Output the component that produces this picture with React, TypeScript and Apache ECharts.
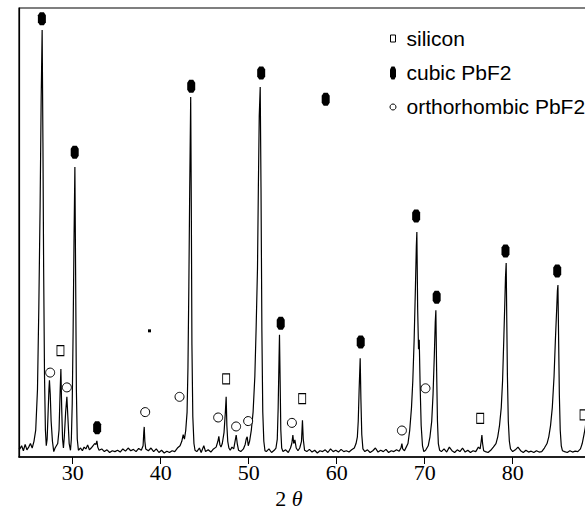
import React, { useEffect, useRef } from "react";
import * as echarts from "echarts";

// Diffractogram: [2θ (deg), intensity (a.u., 0–1000 scale)]
const pattern: [number, number][] = [
  [23.9, 20], [24.0, 18], [24.2, 25], [24.4, 14], [24.6, 28], [24.8, 16], [25.0, 22], [25.2, 30], [25.4, 20], [25.6, 35],
  [25.8, 60], [26.0, 150], [26.15, 330], [26.3, 560], [26.42, 800], [26.53, 951], [26.62, 700], [26.7, 420], [26.8, 180], [26.9, 60], [27.0, 25],
  [27.1, 40], [27.2, 95], [27.3, 150], [27.36, 171], [27.45, 140], [27.55, 80], [27.7, 35], [27.85, 12],
  [28.0, 20], [28.3, 30], [28.45, 60], [28.58, 150], [28.66, 196], [28.75, 110], [28.85, 40], [28.95, 20],
  [29.05, 45], [29.2, 100], [29.34, 134], [29.45, 90], [29.6, 30], [29.75, 15],
  [29.85, 40], [29.95, 120], [30.05, 280], [30.15, 480], [30.25, 646], [30.33, 420], [30.42, 150], [30.52, 40], [30.65, 15],
  [30.9, 20], [31.1, 14], [31.3, 22], [31.5, 18], [31.7, 27], [31.9, 16], [32.1, 20], [32.3, 25], [32.5, 30],
  [32.65, 28], [32.75, 36], [32.85, 22], [33.0, 15],
  [33.3, 18], [33.6, 12], [33.9, 16], [34.2, 10], [34.5, 14], [34.8, 12], [35.1, 15], [35.4, 11], [35.7, 18], [36.0, 13],
  [36.3, 20], [36.6, 14], [36.9, 17], [37.2, 12], [37.5, 19], [37.8, 15],
  [38.0, 25], [38.08, 55], [38.13, 67], [38.2, 35], [38.3, 18],
  [38.6, 14], [38.9, 20], [39.2, 12], [39.5, 18], [39.8, 10], [40.1, 15], [40.4, 9], [40.7, 13], [41.0, 10], [41.3, 14],
  [41.6, 12], [41.9, 20], [42.2, 25], [42.4, 35], [42.56, 50], [42.7, 40], [42.85, 60],
  [43.0, 100], [43.1, 200], [43.2, 380], [43.3, 600], [43.41, 802], [43.48, 560], [43.55, 250], [43.65, 90], [43.78, 30], [43.9, 15],
  [44.1, 12], [44.4, 20], [44.6, 10], [44.9, 25], [45.1, 12], [45.4, 16], [45.7, 11], [46.0, 18], [46.3, 22],
  [46.5, 35], [46.61, 46], [46.72, 28], [46.85, 22], [47.0, 30], [47.2, 55], [47.35, 100], [47.44, 134], [47.52, 70], [47.62, 35], [47.75, 20],
  [47.9, 15], [48.1, 22], [48.3, 18], [48.45, 35], [48.58, 49], [48.7, 30], [48.85, 15],
  [49.1, 12], [49.4, 18], [49.6, 28], [49.72, 40], [49.83, 45], [49.95, 25], [50.1, 35],
  [50.3, 60], [50.5, 100], [50.7, 180], [50.85, 290], [51.0, 420], [51.1, 600], [51.2, 760], [51.31, 824], [51.4, 600], [51.5, 280],
  [51.6, 100], [51.72, 35], [51.85, 14],
  [52.0, 12], [52.3, 18], [52.6, 10], [52.9, 15], [53.1, 20],
  [53.25, 40], [53.35, 110], [53.45, 220], [53.5, 272], [53.58, 160], [53.65, 60], [53.75, 20],
  [53.9, 12], [54.2, 16], [54.5, 10], [54.75, 20],
  [54.9, 30], [55.02, 49], [55.12, 30], [55.25, 38], [55.4, 20], [55.6, 14], [55.8, 20], [56.0, 35], [56.11, 82], [56.2, 40], [56.35, 15],
  [56.6, 12], [56.9, 17], [57.2, 11], [57.5, 15], [57.8, 9], [58.1, 14], [58.4, 12], [58.7, 16], [59.0, 10], [59.3, 18],
  [59.6, 12], [59.9, 15], [60.2, 11], [60.5, 17], [60.8, 12], [61.1, 14], [61.4, 11], [61.7, 16], [62.0, 20], [62.2, 30],
  [62.35, 45], [62.45, 80], [62.55, 150], [62.67, 220], [62.75, 130], [62.85, 50], [62.98, 18],
  [63.2, 12], [63.5, 16], [63.8, 10], [64.1, 14], [64.4, 20], [64.7, 11], [65.0, 15], [65.3, 12], [65.6, 17], [65.9, 10],
  [66.2, 14], [66.5, 12], [66.8, 16], [67.1, 13], [67.3, 20], [67.41, 30], [67.5, 18], [67.7, 14], [67.9, 22], [68.1, 30],
  [68.3, 60], [68.5, 110], [68.65, 170], [68.8, 260], [68.95, 380], [69.05, 470], [69.11, 501], [69.2, 330], [69.3, 240],
  [69.38, 261], [69.48, 160], [69.6, 70], [69.75, 25], [69.9, 12],
  [70.1, 15], [70.4, 25], [70.6, 45], [70.8, 80], [70.95, 140], [71.1, 230], [71.2, 300], [71.27, 327], [71.35, 200], [71.45, 80],
  [71.55, 30], [71.7, 15],
  [71.9, 12], [72.2, 18], [72.5, 11], [72.8, 22], [73.1, 14], [73.4, 10], [73.7, 16], [74.0, 12], [74.3, 20], [74.6, 11],
  [74.9, 15], [75.2, 10], [75.5, 14], [75.8, 12], [76.1, 22],
  [76.3, 18], [76.42, 35], [76.5, 49], [76.58, 30], [76.7, 14],
  [76.9, 12], [77.2, 10], [77.5, 15], [77.8, 22], [78.1, 30],
  [78.3, 45], [78.5, 70], [78.7, 110], [78.85, 170], [79.0, 270], [79.1, 340], [79.18, 400], [79.26, 432], [79.33, 300], [79.4, 180],
  [79.5, 80], [79.62, 35], [79.75, 18],
  [80.0, 12], [80.3, 16], [80.6, 22], [80.9, 14], [81.2, 10], [81.5, 15], [81.8, 11], [82.1, 13], [82.4, 10], [82.7, 14],
  [83.0, 11], [83.3, 12], [83.6, 20], [83.9, 30],
  [84.1, 45], [84.3, 70], [84.5, 110], [84.7, 180], [84.85, 260], [85.0, 330], [85.08, 370], [85.14, 383], [85.22, 260], [85.3, 140],
  [85.4, 60], [85.52, 25], [85.65, 14],
  [85.9, 12], [86.2, 10], [86.5, 14], [86.8, 11], [87.1, 13], [87.4, 12], [87.7, 18], [87.9, 30], [88.1, 50], [88.24, 65],
  [88.4, 90], [88.6, 140], [88.75, 160], [88.9, 90], [89.1, 40], [89.4, 20], [89.7, 14], [90.0, 15],
];

// Phase markers [2θ, height]
const siliconMarks: [number, number][] = [
  [28.61, 237], [47.44, 174], [56.08, 130], [76.31, 86], [88.05, 94],
];
const cubicMarks: [number, number][] = [
  [26.5, 976], [30.23, 679], [32.78, 65], [43.47, 826], [51.42, 855], [53.64, 298],
  [58.75, 797], [62.73, 256], [69.03, 537], [71.36, 356], [79.18, 459], [85.06, 414],
];
const orthoMarks: [number, number][] = [
  [27.44, 188], [29.34, 155], [38.24, 100], [42.14, 134], [46.53, 88], [48.57, 68],
  [49.94, 80], [54.91, 76], [67.41, 59], [70.09, 153],
];
const strayDots: [number, number][] = [[38.73, 281]];

const xTicks = [30, 40, 50, 60, 70, 80];
const legendLabels = ["silicon", "cubic PbF2", "orthorhombic PbF2"];

const cubicPath = "M2,0 L6,0 L8,3 L8,10 L6,13 L2,13 L0,10 L0,3 Z";

echarts.graphic.registerShape(
  "cubicMark",
  echarts.graphic.extendPath(cubicPath, {})
);

export default function App() {
  const ref = useRef<HTMLDivElement>(null);

  useEffect(() => {
    if (!ref.current) return;
    const chart = echarts.init(ref.current, undefined, { renderer: "svg" });
    const serif = "'Liberation Serif', 'Times New Roman', serif";
    const sans = "'Liberation Sans', Arial, sans-serif";
    const legendFont = 21;
    const solid = { opacity: 1 };
    chart.setOption({
      animation: false,
      backgroundColor: "#fff",
      grid: {
        left: 19,
        top: 8,
        width: 581.7,
        height: 449,
        show: true,
        borderColor: "#000",
        borderWidth: 1.2,
        outerBoundsMode: "none",
        containLabel: false,
      },
      xAxis: {
        type: "value",
        min: 23.9,
        max: 90,
        axisLine: { show: true, lineStyle: { color: "#000", width: 1.6 } },
        axisTick: {
          show: true,
          length: 7,
          customValues: xTicks,
          lineStyle: { color: "#000", width: 1 },
        },
        axisLabel: {
          customValues: xTicks,
          color: "#000",
          fontFamily: serif,
          fontSize: 22,
          margin: 4,
        },
        splitLine: { show: false },
      },
      yAxis: {
        type: "value",
        min: 0,
        max: 1000,
        axisLine: { show: true, lineStyle: { color: "#000", width: 1.2 } },
        axisTick: { show: false },
        axisLabel: { show: false },
        splitLine: { show: false },
      },
      series: [
        {
          type: "line",
          data: pattern,
          symbol: "none",
          lineStyle: { color: "#000", width: 1.2 },
          z: 2,
        },
        {
          name: legendLabels[0],
          type: "scatter",
          data: siliconMarks,
          symbol: "rect",
          symbolSize: [7, 10],
          itemStyle: { color: "#fff", borderColor: "#000", borderWidth: 1, ...solid },
          z: 5,
        },
        {
          name: legendLabels[1],
          type: "scatter",
          data: cubicMarks,
          symbol: "path://" + cubicPath,
          symbolSize: [8, 13],
          itemStyle: { color: "#000", ...solid },
          z: 5,
        },
        {
          name: legendLabels[2],
          type: "scatter",
          data: orthoMarks,
          symbol: "circle",
          symbolSize: 9,
          itemStyle: { color: "#fff", borderColor: "#000", borderWidth: 1, ...solid },
          z: 5,
        },
        {
          type: "scatter",
          data: strayDots,
          symbol: "rect",
          symbolSize: 3,
          itemStyle: { color: "#000", ...solid },
          z: 5,
        },
      ],
      graphic: [
        // legend keys
        {
          type: "rect",
          shape: { x: 390.5, y: 35, width: 5, height: 7 },
          style: { fill: "#fff", stroke: "#000", lineWidth: 1 },
        },
        {
          type: "cubicMark",
          x: 390,
          y: 66.5,
          scaleX: 0.75,
          scaleY: 1,
          style: { fill: "#000" },
        },
        {
          type: "circle",
          shape: { cx: 393, cy: 107, r: 3 },
          style: { fill: "#fff", stroke: "#000", lineWidth: 1 },
        },
        {
          type: "text",
          x: 406.5,
          y: 38,
          style: { text: legendLabels[0], font: `${legendFont}px ${sans}`, fill: "#000", verticalAlign: "middle" },
        },
        {
          type: "text",
          x: 406.5,
          y: 72,
          style: { text: legendLabels[1], font: `${legendFont}px ${sans}`, fill: "#000", verticalAlign: "middle" },
        },
        {
          type: "text",
          x: 406.5,
          y: 106,
          style: { text: legendLabels[2], font: `${legendFont}px ${sans}`, fill: "#000", verticalAlign: "middle" },
        },
        // x-axis title
        {
          type: "text",
          x: 289,
          y: 498,
          style: {
            text: "{a|2 }{b|θ}",
            align: "center",
            verticalAlign: "middle",
            rich: {
              a: { fontFamily: serif, fontSize: 22, fill: "#000" },
              b: { fontFamily: serif, fontSize: 22, fontStyle: "italic", fill: "#000" },
            },
          },
        },
      ],
    });
    return () => chart.dispose();
  }, []);

  return (
    <div
      ref={ref}
      style={{ position: "fixed", left: 0, top: 0, width: 585, height: 510, background: "#fff" }}
    />
  );
}
